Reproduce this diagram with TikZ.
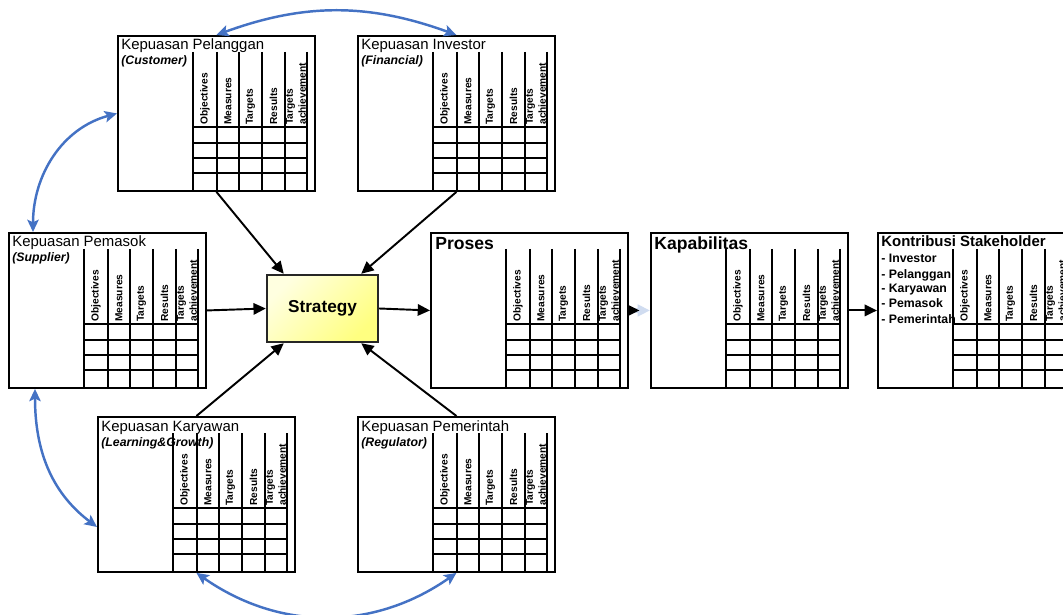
\documentclass[tikz,border=0pt]{standalone}
\usepackage{fontspec}
\setmainfont{Liberation Sans}
\usetikzlibrary{positioning, arrows.meta, calc}
\definecolor{panahbiru}{RGB}{68,114,196}

\begin{document}
\begin{tikzpicture}[
            x=0.02cm, y=0.02cm,
            kartu/.style={draw, line width=1.1pt, rectangle, anchor=north west, minimum width=3.94cm, minimum height=3.1cm, inner sep=0pt},
            garis/.style={line width=0.75pt},
            judul/.style={anchor=base west, inner sep=0pt, font=\fontsize{8.5}{10}\selectfont},
            subjudul/.style={anchor=base west, inner sep=0pt, font=\fontsize{7}{8}\selectfont\bfseries\itshape},
            judulbesar/.style={anchor=base west, inner sep=0pt, font=\fontsize{10}{12}\selectfont\bfseries},
            daftar/.style={anchor=base west, inner sep=0pt, font=\fontsize{7}{8.5}\selectfont\bfseries},
            kolom/.style={rotate=90, anchor=west, inner sep=0pt, align=left, font=\fontsize{5.8}{7.4}\selectfont\bfseries},
            panah/.style={-{Triangle[length=7pt,width=6.5pt]}, line width=1.1pt},
            lengkung/.style={{Stealth[length=7pt,width=6.5pt,inset=1.5pt]}-{Stealth[length=7pt,width=6.5pt,inset=1.5pt]}, line width=1.4pt, draw=panahbiru},
            strategi/.style={draw=black!85, line width=1.4pt, top color=yellow!12, bottom color=yellow!50, shading angle=45, minimum width=2.22cm, minimum height=1.34cm, font=\fontsize{9.8}{12}\selectfont\bfseries},
        ]
            \useasboundingbox (0,0) rectangle (1063,-615);
            \clip (0,0) rectangle (1063,-615);

            % Draw the scorecard boxes
            \foreach \nama/\x/\y in {pel/117/-35, inv/357/-35, pem/8/-232, pros/430/-232, kap/650/-232, kon/877/-232, kar/97/-416, pmr/357/-416}
                \node[kartu] (\nama) at (\x,\y) {};

            % Draw the table inside every box
            \foreach \nama in {pel,inv,pem,pros,kap,kon,kar,pmr} {
                \foreach \x in {76,100,122,145,168,190}
                    \draw[garis] ($(\nama.north west)+(\x,-17)$) -- ($(\nama.north west)+(\x,-155)$);
                \foreach \y in {92,108,123,138}
                    \draw[garis] ($(\nama.north west)+(76,-\y)$) -- ($(\nama.north west)+(190,-\y)$);
                \foreach \x/\teks [count=\k] in {88/Objectives, 111/Measures, 133.5/Targets, 156.5/Results, 179/{Targets\\achievement}}
                    \node[kolom] (\nama-k\k) at ($(\nama.north west)+(\x,-90)$) {\teks};
            }

            % Titles of the stakeholder boxes
            \foreach \nama/\atas/\bawah in {pel/Kepuasan Pelanggan/Customer, inv/Kepuasan Investor/Financial, pem/Kepuasan Pemasok/Supplier, kar/Kepuasan Karyawan/Learning\&Growth, pmr/Kepuasan Pemerintah/Regulator} {
                \node[judul] (\nama-judul) at ($(\nama.north west)+(4,-15)$) {\atas};
                \node[subjudul] (\nama-sub) at ($(\nama.north west)+(4,-30)$) {(\bawah)};
            }
            \node[judulbesar] (pros-judul) at ($(pros.north west)+(5,-18)$) {Proses};
            \node[judulbesar] (kap-judul) at ($(kap.north west)+(4,-18)$) {Kapabilitas};
            \node[judul, font=\fontsize{8.5}{10}\selectfont\bfseries] (kon-judul) at ($(kon.north west)+(4,-15)$) {Kontribusi Stakeholder};
            \foreach \isi [count=\i] in {Investor, Pelanggan, Karyawan, Pemasok, Pemerintah}
                \node[daftar] (kon-\i) at ($(kon.north west)+(4,{-16-15*\i})$) {- \isi};

            % Strategy in the middle
            \node[strategi] (strat) at (322.5,-308.5) {Strategy};

            % Connect every stakeholder with the strategy
            \draw[panah] (pel.south) -- ($(strat.north west)+(18,0)$);
            \draw[panah] (inv.south) -- ($(strat.north east)+(-18,0)$);
            \draw[panah] (pem.east) -- (strat.west);
            \draw[panah] (kar.north) -- ($(strat.south west)+(18,0)$);
            \draw[panah] (pmr.north) -- ($(strat.south east)+(-18,0)$);

            % Strategy to process, capability and contribution
            \draw[panah] (strat.east) -- (pros.west);
            \draw[panah, preaction={draw=panahbiru!25, line width=3pt, shorten >=0pt}, shorten >=6pt] (pros.east) -- (kap.west);
            \draw[panah] (kap.east) -- (kon.west);

            % Blue links between the stakeholders
            \draw[lengkung] (pel.north) to[out=20, in=160] (inv.north);
            \draw[lengkung] ($(pem.north west)+(25,0)$) to[out=90, in=195] (pel.west);
            \draw[lengkung] ($(pem.south west)+(27,0)$) to[out=-90, in=143] ($(kar.north west)+(0,-111)$);
            \draw[lengkung] (kar.south) to[out=-35, in=-145] (pmr.south);
        \end{tikzpicture}
\end{document}
